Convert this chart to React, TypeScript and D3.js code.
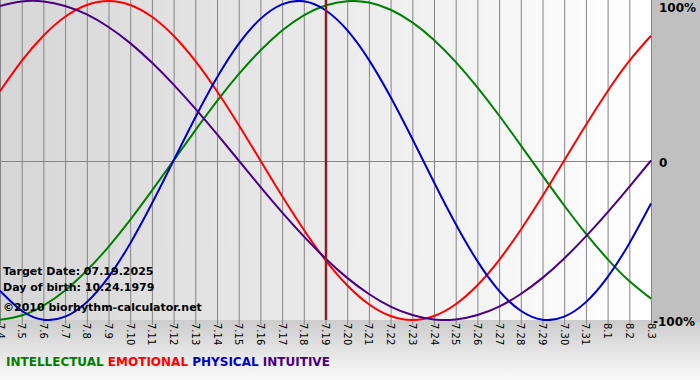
import React from "react";
import * as d3 from "d3";

const dates = ["7.4","7.5","7.6","7.7","7.8","7.9","7.10","7.11","7.12","7.13","7.14","7.15","7.16","7.17","7.18","7.19","7.20","7.21","7.22","7.23","7.24","7.25","7.26","7.27","7.28","7.29","7.30","7.31","8.1","8.2","8.3"];

const intellectual = [-0.999,-0.972,-0.910,-0.815,-0.690,-0.541,-0.372,-0.189,0.000,0.189,0.372,0.541,0.690,0.815,0.910,0.972,0.999,0.990,0.945,0.866,0.756,0.618,0.458,0.282,0.095,-0.095,-0.282,-0.458,-0.618,-0.756,-0.866];
const emotional = [0.434,0.624,0.782,0.901,0.975,1.000,0.975,0.901,0.782,0.624,0.434,0.223,0.000,-0.223,-0.434,-0.624,-0.782,-0.901,-0.975,-1.000,-0.975,-0.901,-0.782,-0.624,-0.434,-0.223,0.000,0.223,0.434,0.624,0.782];
const physical = [-0.817,-0.942,-0.998,-0.979,-0.888,-0.731,-0.520,-0.270,0.000,0.270,0.520,0.731,0.888,0.979,0.998,0.942,0.817,0.631,0.398,0.136,-0.136,-0.398,-0.631,-0.817,-0.942,-0.998,-0.979,-0.888,-0.731,-0.520,-0.270];
const intuitive = [0.969,0.997,0.997,0.969,0.916,0.837,0.736,0.614,0.476,0.325,0.165,0.000,-0.165,-0.325,-0.476,-0.614,-0.736,-0.837,-0.916,-0.969,-0.997,-0.997,-0.969,-0.916,-0.837,-0.736,-0.614,-0.476,-0.325,-0.165,0.000];

const targetIndex = 15;
const yTicks = [
  { v: 1, label: "100%" },
  { v: 0, label: "0" },
  { v: -1, label: "-100%" },
];

const series = [
  { name: "INTELLECTUAL", values: intellectual, color: "#008000" },
  { name: "EMOTIONAL", values: emotional, color: "#ff0000" },
  { name: "PHYSICAL", values: physical, color: "#0000cc" },
  { name: "INTUITIVE", values: intuitive, color: "#4b0082" },
];

const W = 700;
const H = 380;
const PW = 651;
const PB = 320;

export default function App() {
  const x = d3.scaleLinear().domain([0, dates.length - 1]).range([0, PW]);
  const y = d3.scaleLinear().domain([-1, 1]).range([PB, 1]);
  const line = d3
    .line<number>()
    .x((_, i) => x(i))
    .y((d) => y(d))
    .curve(d3.curveNatural);
  const font = "Verdana, 'DejaVu Sans', sans-serif";
  return (
    <svg width={W} height={H} style={{ position: "absolute", left: 0, top: 0 }} fontFamily={font}>
      <defs>
        <linearGradient id="plotbg" x1="0" x2="1" y1="0" y2="0">
          <stop offset="0" stopColor="#d6d6d6" />
          <stop offset="1" stopColor="#ffffff" />
        </linearGradient>
        <linearGradient id="botbg" x1="0" x2="0" y1="0" y2="1">
          <stop offset="0" stopColor="#cccccc" />
          <stop offset="1" stopColor="#fafafa" />
        </linearGradient>
        <clipPath id="clip">
          <rect x={0} y={0} width={PW + 1} height={PB + 1} />
        </clipPath>
      </defs>
      <rect x={0} y={PB} width={W} height={H - PB} fill="url(#botbg)" />
      <rect x={PW} y={0} width={W - PW} height={PB + 2} fill="#c0c0c0" />
      <rect x={0} y={0} width={PW} height={PB} fill="url(#plotbg)" />
      {dates.map((d, i) => (
        <line key={d} x1={x(i) + 0.5} x2={x(i) + 0.5} y1={0} y2={PB + 5} stroke="#848484" strokeWidth={1} />
      ))}
      <line x1={0} x2={PW} y1={Math.round(y(0)) + 0.5} y2={Math.round(y(0)) + 0.5} stroke="#848484" strokeWidth={1} />
      <g clipPath="url(#clip)">
        {series.map((s) => (
          <path key={s.name} d={line(s.values) || ""} fill="none" stroke={s.color} strokeWidth={2} />
        ))}
      </g>
      <line x1={x(targetIndex) + 0.5} x2={x(targetIndex) + 0.5} y1={0} y2={PB} stroke="#8f1d1d" strokeWidth={2.5} />
      {dates.map((d, i) => (
        <text key={d} transform={`translate(${x(i) - 3.5},${PB + 3}) rotate(90)`} fontSize={10} fill="#000">
          {d}
        </text>
      ))}
      {yTicks.map((t) => (
        <text
          key={t.label}
          x={t.v === -1 ? 653 : 659}
          y={y(t.v) + (t.v === 1 ? 11 : 6)}
          fontSize={12}
          fontWeight="bold"
          fill="#000"
        >
          {t.label}
        </text>
      ))}
      <g fontSize={11} fontWeight="bold" fill="#000">
        <text x={3} y={275}>Target Date: 07.19.2025</text>
        <text x={3} y={291}>Day of birth: 10.24.1979</text>
        <text x={3} y={311}>©2010 biorhythm-calculator.net</text>
      </g>
      <text x={6} y={366} fontSize={12} fontWeight="bold">
        {series.map((s, i) => (
          <tspan key={s.name} fill={s.color}>
            {(i > 0 ? " " : "") + s.name}
          </tspan>
        ))}
      </text>
    </svg>
  );
}
